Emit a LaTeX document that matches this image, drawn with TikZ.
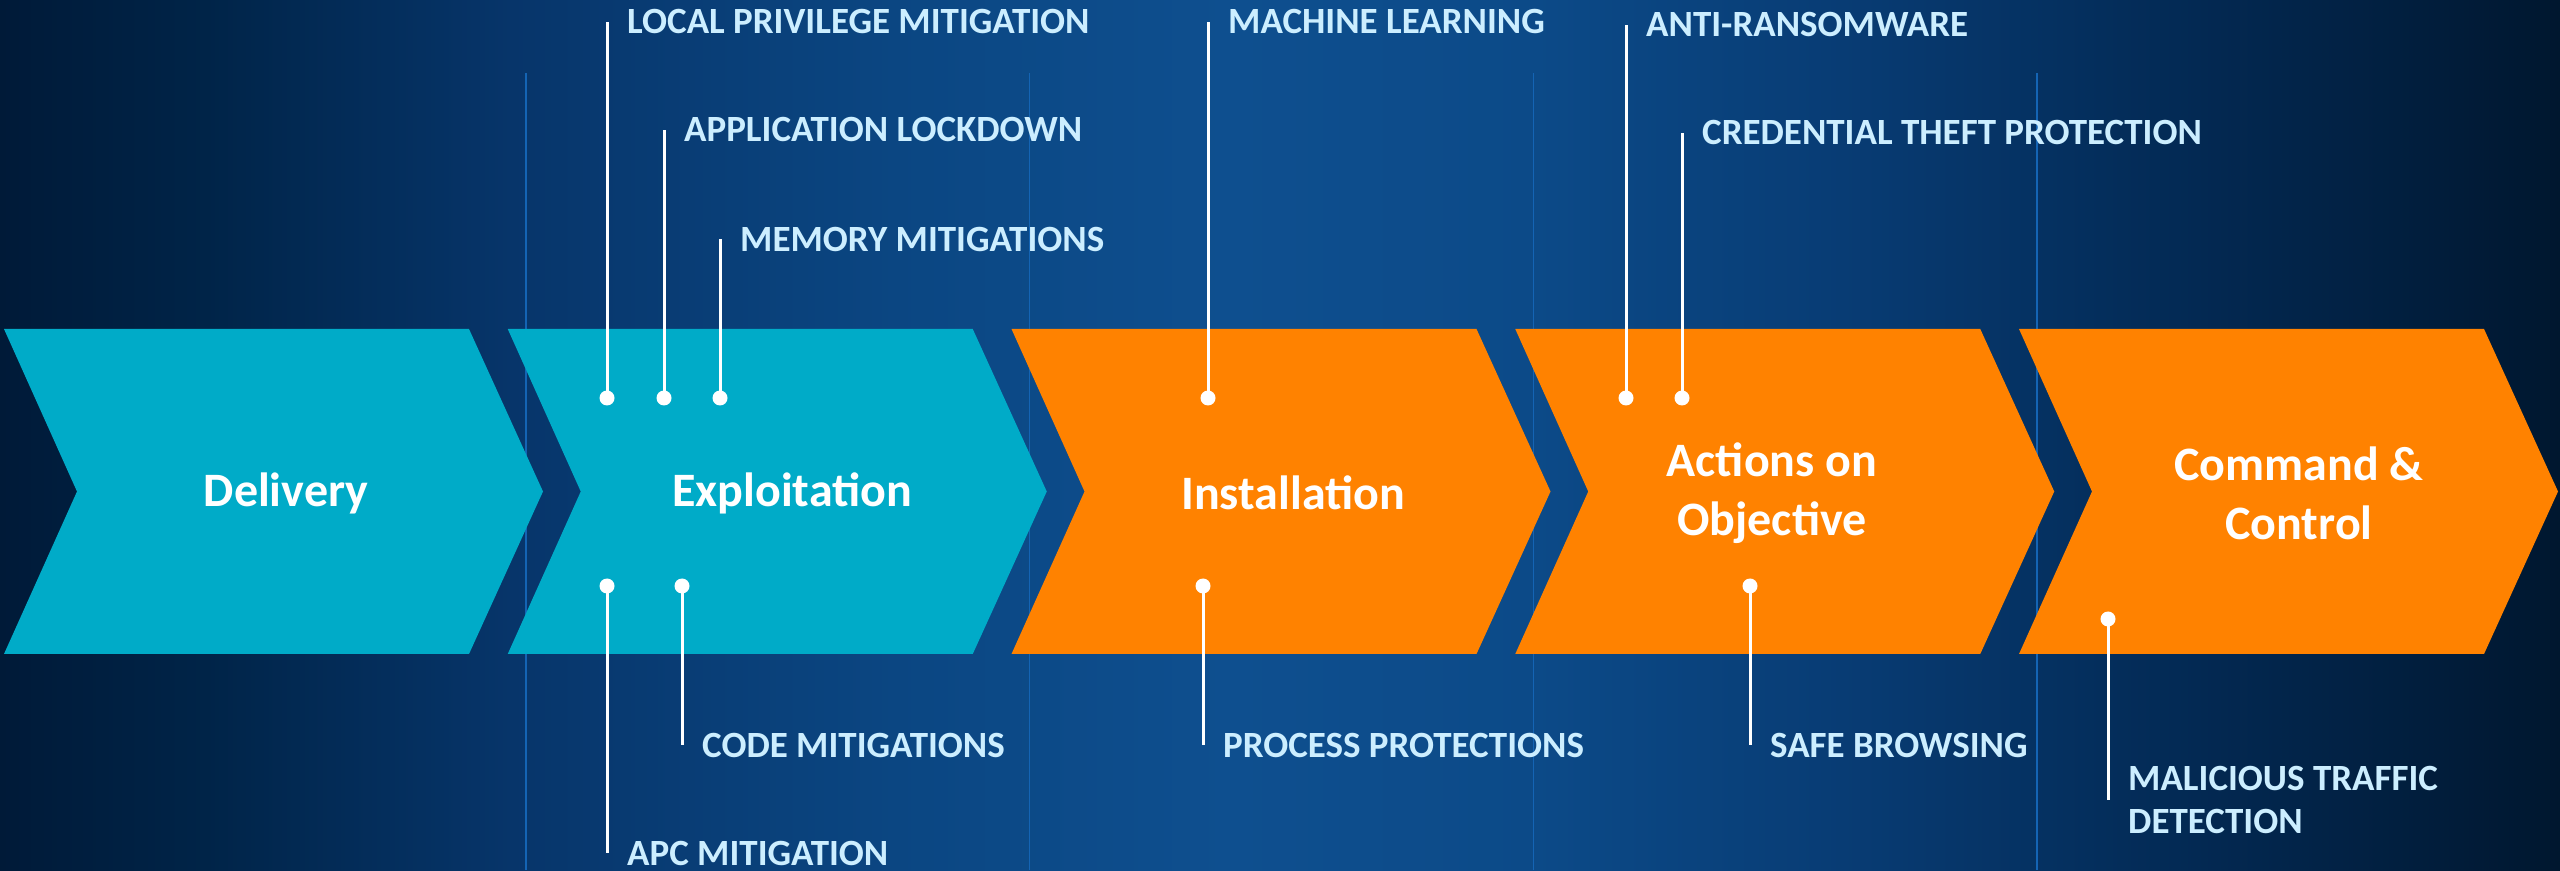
\documentclass[tikz,border=0pt]{standalone}
\usepackage{fontspec}
\setmainfont{Carlito}
\definecolor{gridblue}{HTML}{1464B4}
\definecolor{stagecyan}{HTML}{00ABC8}
\definecolor{stageorange}{HTML}{FF8200}
\definecolor{taglight}{HTML}{CCEEFF}
% tikz fits the 25bp--75bp band of a shading to the path
\pgfdeclarehorizontalshading{backdrop}{100bp}{
  rgb(0bp)=(0,0.102,0.220);
  rgb(25bp)=(0,0.102,0.220);
  rgb(29bp)=(0,0.141,0.282);
  rgb(35bp)=(0.027,0.208,0.416);
  rgb(42.5bp)=(0.043,0.275,0.510);
  rgb(49bp)=(0.055,0.310,0.561);
  rgb(55bp)=(0.047,0.290,0.533);
  rgb(61bp)=(0.031,0.235,0.455);
  rgb(67.5bp)=(0.012,0.165,0.333);
  rgb(75bp)=(0,0.090,0.184);
  rgb(100bp)=(0,0.090,0.184)}
\begin{document}
\begin{tikzpicture}[x=1pt,y=1pt,
      stage/.style={fill=#1},
      title/.style={text=white,align=center,inner sep=0pt,
        font=\fontsize{48}{59}\selectfont\bfseries},
      tag/.style={text=taglight,anchor=west,align=left,inner sep=0pt,
        font=\fontsize{37}{43}\selectfont\bfseries},
      pin/.style={circle,fill=white,inner sep=0pt,minimum size=15pt},
      stem/.style={white,line width=3pt},
    ]
    % background
    \shade[shading=backdrop] (0,0) rectangle (2560,870);
    \foreach \i in {1,...,4}{
      \draw[gridblue,line width=1.5pt] ({22+503.75*\i},0) -- ({22+503.75*\i},797);
    };
    % kill chain stages
    \foreach \i/\c in {0/stagecyan,1/stagecyan,2/stageorange,3/stageorange,4/stageorange}{
      \fill[stage=\c] ({4+503.75*\i},541) -- ++(465,0) -- ++(74,-162.5)
        -- ++(-74,-162.5) -- ++(-465,0) -- ++(73,162.5) -- cycle;
    };
    \node[title] (delivery) at (286,377) {Delivery};
    \node[title] (exploit) at (792,377) {Exploitation};
    \node[title] (install) at (1293,377) {Installation};
    \node[title] (actions) at (1772,377) {Actions on\\Objective};
    \node[title] (command) at (2299,377) {Command \&\\Control};
    % protections
    \foreach \n/\x/\y/\ly/\txt in {
        lpm/607/472/848/{LOCAL PRIVILEGE MITIGATION},
        alk/664/472/740/{APPLICATION LOCKDOWN},
        mem/720/472/631/{MEMORY MITIGATIONS},
        apc/607/284/17/{APC MITIGATION},
        cde/682/284/125/{CODE MITIGATIONS},
        mlr/1208/472/848/{MACHINE LEARNING},
        prc/1203/284/125/{PROCESS PROTECTIONS},
        arw/1626/472/845/{ANTI-RANSOMWARE},
        ctp/1682/472/737/{CREDENTIAL THEFT PROTECTION},
        sfb/1750/284/125/{SAFE BROWSING},
        mtd/2108/251/70/{MALICIOUS TRAFFIC\\DETECTION}}{
      \node[pin] (\n) at (\x,\y) {};
      \node[tag] (\n-t) at (\x+20,\ly) {\txt};
      \draw[stem] (\n.center) -- (\n.center |- \n-t.west);
    };
  \end{tikzpicture}
\end{document}
